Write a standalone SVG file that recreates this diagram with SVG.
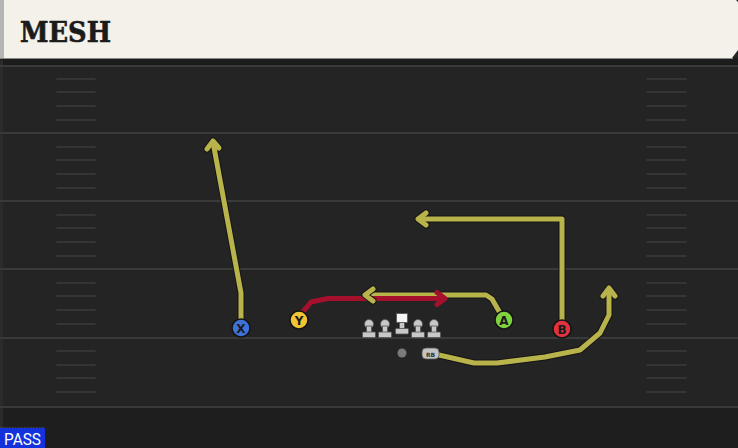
<svg xmlns="http://www.w3.org/2000/svg" width="738" height="448" viewBox="0 0 738 448">
<defs>
<style>
.yl{stroke:#3a3a3a;stroke-width:2;fill:none}
.hm{stroke:#3b3b3b;stroke-width:1.6;fill:none;stroke-linecap:round}
.ro{fill:none;stroke:#151515;stroke-width:7;stroke-linejoin:round;stroke-linecap:round}
.ry{fill:none;stroke:#b9b34b;stroke-width:5;stroke-linejoin:round;stroke-linecap:round}
.rr{fill:none;stroke:#a5112d;stroke-width:5;stroke-linejoin:round;stroke-linecap:round}
.pl{stroke:#141414;stroke-width:1.5}
.lt{font-family:"DejaVu Sans","Liberation Sans",sans-serif;font-weight:bold;font-size:12px;fill:#1a1a1a;text-anchor:middle}
.ln{fill:#c8c8c8;stroke:#555;stroke-width:0.8}
</style>
</defs>
<g id="field">
<rect x="0" y="0" width="738" height="448" fill="#242424"/>
<rect x="0" y="408" width="738" height="40" fill="#1e1e1e"/>
<rect x="0" y="58" width="738" height="8" fill="#1c1c1c"/>
<rect x="0" y="60" width="3" height="388" fill="#2b2b2b"/>
<line class="yl" x1="0" y1="66" x2="738" y2="66"/>
<line class="yl" x1="0" y1="133" x2="738" y2="133"/>
<line class="yl" x1="0" y1="201" x2="738" y2="201"/>
<line class="yl" x1="0" y1="269" x2="738" y2="269"/>
<line class="yl" x1="0" y1="338" x2="738" y2="338"/>
<line class="yl" x1="0" y1="407" x2="738" y2="407"/>
<g id="hashes-left">
<path class="hm" d="M57 79H95M57 92H95M57 106H95M57 120H95M57 147H95M57 160H95M57 174H95M57 188H95M57 215H95M57 228H95M57 242H95M57 256H95M57 283H95M57 296H95M57 310H95M57 324H95M57 351H95M57 365H95M57 378H95M57 392H95"/>
</g>
<g id="hashes-right">
<path class="hm" d="M647 79H686M647 92H686M647 106H686M647 120H686M647 147H686M647 160H686M647 174H686M647 188H686M647 215H686M647 228H686M647 242H686M647 256H686M647 283H686M647 296H686M647 310H686M647 324H686M647 351H686M647 365H686M647 378H686M647 392H686"/>
</g>
</g>
<g id="header">
<path d="M0 0H736L738 2V50L732 58H0Z" fill="#f4f1ea"/>
<rect x="0" y="0" width="4" height="58" fill="#b5b5b5"/>
<line x1="0" y1="58.5" x2="733" y2="58.5" stroke="#8a8a8a" stroke-width="1"/>
<text x="20" y="42" font-family="'DejaVu Serif','Liberation Serif',serif" font-weight="bold" font-size="27" fill="#1b1b1b" stroke="#1b1b1b" stroke-width="0.6" textLength="91" lengthAdjust="spacingAndGlyphs">MESH</text>
</g>
<g id="connectors">
<g id="route-x">
<polyline class="ro" points="241,320 241,293 213,142"/>
<polyline class="ro" points="207,149 213,141 219,148"/>
<polyline class="ry" points="241,320 241,293 213,142"/>
<polyline class="ry" points="207,149 213,141 219,148"/>
</g>
<g id="route-b">
<polyline class="ro" points="562,321 562,219 420,219"/>
<polyline class="ro" points="426,213 418,219 426,225"/>
<polyline class="ry" points="562,321 562,219 420,219"/>
<polyline class="ry" points="426,213 418,219 426,225"/>
</g>
<g id="route-rb">
<polyline class="ro" points="439,355 474,363 497,363 545,357 580,350 600,333 609,315 609,290"/>
<polyline class="ro" points="603,296 609,288 615,296"/>
<polyline class="ry" points="439,355 474,363 497,363 545,357 580,350 600,333 609,315 609,290"/>
<polyline class="ry" points="603,296 609,288 615,296"/>
</g>
<g id="route-a">
<polyline class="ro" points="500,313 492,299 486,295 367,295"/>
<polyline class="ry" points="500,313 492,299 486,295 367,295"/>
</g>
<g id="route-y">
<polyline class="rr" points="302,313 311,302 328,298.5 443,298.5"/>
<polyline class="rr" points="437,292.5 445,298.5 437,304.5"/>
</g>
<g id="route-a-head">
<polyline class="ro" points="373,289 365,295 373,301"/>
<polyline class="ry" points="373,289 365,295 373,301"/>
</g>
</g>
<g id="player-x">
<circle class="pl" cx="241" cy="328" r="9" fill="#3e72d8"/>
<text class="lt" x="241" y="332.5">X</text>
</g>
<g id="player-y">
<circle class="pl" cx="299" cy="320" r="9" fill="#f2c434"/>
<text class="lt" x="299" y="324.5">Y</text>
</g>
<g id="player-a">
<circle class="pl" cx="504" cy="320" r="9" fill="#7ed33e"/>
<text class="lt" x="504" y="324.5">A</text>
</g>
<g id="player-b">
<circle class="pl" cx="562" cy="329" r="9" fill="#e3323f"/>
<text class="lt" x="562" y="333.5">B</text>
</g>
<g id="lineman-1">
<circle class="ln" cx="369" cy="324" r="4.5"/>
<rect class="ln" x="366.5" y="326" width="5" height="7"/>
<rect class="ln" x="362.5" y="332" width="13" height="5.5" rx="1"/>
</g>
<g id="lineman-2">
<circle class="ln" cx="385" cy="324" r="4.5"/>
<rect class="ln" x="382.5" y="326" width="5" height="7"/>
<rect class="ln" x="378.5" y="332" width="13" height="5.5" rx="1"/>
</g>
<g id="center">
<rect x="396.5" y="313.5" width="11" height="9" fill="#f4f4f4" stroke="#555" stroke-width="0.8"/>
<rect class="ln" x="399.5" y="322.5" width="5" height="6.5"/>
<rect class="ln" x="395.5" y="328.5" width="13" height="5.5" rx="1"/>
</g>
<g id="lineman-3">
<circle class="ln" cx="418" cy="324" r="4.5"/>
<rect class="ln" x="415.5" y="326" width="5" height="7"/>
<rect class="ln" x="411.5" y="332" width="13" height="5.5" rx="1"/>
</g>
<g id="lineman-4">
<circle class="ln" cx="434" cy="324" r="4.5"/>
<rect class="ln" x="431.5" y="326" width="5" height="7"/>
<rect class="ln" x="427.5" y="332" width="13" height="5.5" rx="1"/>
</g>
<g id="qb">
<circle cx="402" cy="353" r="4.5" fill="#7a7a7a"/>
</g>
<g id="rb">
<rect x="422" y="348" width="17" height="11" rx="4" fill="#c4c4c4" stroke="#555" stroke-width="0.8"/>
<text x="430.5" y="356.5" font-family="'DejaVu Sans',sans-serif" font-size="6" font-weight="bold" fill="#333" text-anchor="middle">RB</text>
</g>
<g id="pass-label">
<line x1="0" y1="427.5" x2="45" y2="427.5" stroke="#444" stroke-width="1" stroke-dasharray="1.5,1.5"/>
<rect x="0" y="428" width="45" height="20" fill="#1432dc"/>
<text x="4" y="445" font-family="Roboto,'Liberation Sans',sans-serif" font-size="16" fill="#ffffff" textLength="37" lengthAdjust="spacingAndGlyphs">PASS</text>
</g>
</svg>
